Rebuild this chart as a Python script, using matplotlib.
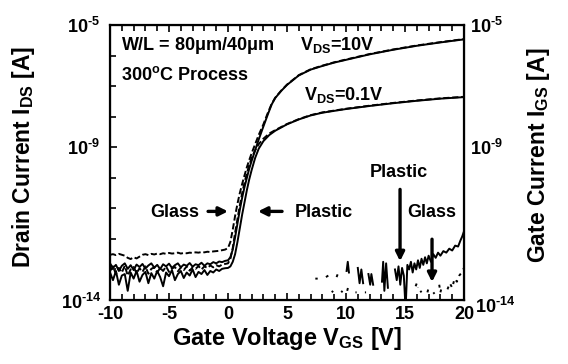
import numpy as np
import matplotlib
matplotlib.use("Agg")
import matplotlib.pyplot as plt
from matplotlib.ticker import FixedLocator, NullFormatter, FuncFormatter

plt.rcParams['font.family'] = 'Liberation Sans'
plt.rcParams['font.weight'] = 'bold'
plt.rcParams['axes.unicode_minus'] = False
plt.rcParams['mathtext.fontset'] = 'custom'
plt.rcParams['mathtext.rm'] = 'Liberation Sans:bold'
plt.rcParams['mathtext.it'] = 'Liberation Sans:bold'
plt.rcParams['mathtext.bf'] = 'Liberation Sans:bold'
plt.rcParams['mathtext.sf'] = 'Liberation Sans:bold'

nan = np.nan

# off-state gate voltages (V)
vg_off = [-10, -9.75, -9.5, -9.25, -9, -8.75, -8.5, -8.25, -8, -7.75,
          -7.5, -7.25, -7, -6.75, -6.5, -6.25, -6, -5.75, -5.5, -5.25,
          -5, -4.75, -4.5, -4.25, -4, -3.75, -3.5, -3.25, -3, -2.75,
          -2.5, -2.25, -2, -1.75, -1.5, -1.25, -1, -0.75, -0.5, -0.25]

# log10(I_DS) in off state
glass10_off = [-12.52, -12.50, -12.53, -12.49, -12.52, -12.55, -12.62, -12.66, -12.60, -12.64,
               -12.58, -12.52, -12.50, -12.53, -12.49, -12.51, -12.48, -12.50, -12.47, -12.49,
               -12.46, -12.48, -12.47, -12.45, -12.48, -12.46, -12.47, -12.45, -12.46, -12.44,
               -12.45, -12.43, -12.44, -12.42, -12.43, -12.41, -12.40, -12.39, -12.37, -12.35]
plastic10_off = [-12.80, -12.95, -12.85, -13.05, -12.88, -12.80, -12.98, -12.86, -13.02, -12.84,
                 -12.92, -12.82, -12.97, -12.87, -12.80, -12.94, -12.85, -12.99, -12.83, -12.90,
                 -12.81, -12.95, -12.86, -12.80, -12.93, -12.84, -12.88, -12.79, -12.91, -12.83,
                 -12.86, -12.78, -12.88, -12.80, -12.83, -12.76, -12.80, -12.74, -12.76, -12.72]
glass01_off = [-13.05, -12.90, -13.15, -12.95, -13.10, -12.88, -13.20, -13.00, -12.92, -13.12,
               -12.96, -13.08, -12.90, -13.14, -12.98, -12.93, -13.10, -12.95, -13.05, -12.90,
               -13.08, -12.97, -12.92, -13.06, -12.94, -13.02, -12.90, -13.04, -12.93, -12.98,
               -12.89, -13.00, -12.90, -12.95, -12.87, -12.93, -12.86, -12.90, -12.84, -12.82]
plastic01_off = [-13.10, -13.35, -13.05, -13.50, -13.20, -13.15, -13.70, -13.10, -13.30, -13.05,
                 -13.40, -13.18, -13.08, -13.45, -13.12, -13.30, -13.05, -13.25, -13.55, -13.10,
                 -13.22, -13.02, -13.35, -13.15, -13.05, -13.28, -13.10, -13.20, -13.00, -13.25,
                 -13.08, -13.15, -13.02, -13.18, -13.05, -13.10, -13.00, -13.05, -12.98, -12.96]

# turn-on region and on state
vg_on10 = [0, 0.2, 0.4, 0.6, 0.8, 1.0, 1.2, 1.4, 1.6, 1.8, 2.0, 2.3, 2.6, 3.0, 3.4, 3.7,
           4.0, 4.5, 5, 6, 7, 8, 9, 10, 12, 14, 16, 18, 20]
glass10_on = [-12.30, -12.10, -11.70, -11.25, -10.85, -10.50, -10.20, -9.92, -9.65, -9.42,
              -9.20, -8.90, -8.60, -8.25, -7.85, -7.58, -7.38, -7.15, -6.95, -6.64,
              -6.45, -6.33, -6.22, -6.13, -5.95, -5.80, -5.67, -5.56, -5.46]
plastic10_on = [-12.70, -12.60, -12.35, -11.95, -11.50, -11.05, -10.65, -10.30, -10.00, -9.70,
                -9.45, -9.10, -8.75, -8.32, -7.90, -7.60, -7.39, -7.16, -6.96, -6.65,
                -6.46, -6.34, -6.23, -6.14, -5.96, -5.81, -5.68, -5.57, -5.47]
vg_on01 = [0, 0.2, 0.4, 0.6, 0.8, 1.0, 1.2, 1.4, 1.6, 1.8, 2.0, 2.3, 2.6, 3.0, 3.5,
           4.0, 5, 6, 7, 8, 10, 12, 14, 16, 18, 20]
glass01_on = [-12.80, -12.65, -12.30, -11.80, -11.35, -10.90, -10.50, -10.15, -9.85, -9.58,
              -9.35, -9.10, -8.90, -8.72, -8.55, -8.44, -8.24, -8.08, -7.95, -7.86,
              -7.74, -7.64, -7.55, -7.47, -7.40, -7.35]
plastic01_on = [-12.95, -12.90, -12.75, -12.50, -12.10, -11.65, -11.20, -10.80, -10.40, -10.05,
                -9.75, -9.35, -9.05, -8.80, -8.60, -8.46, -8.25, -8.09, -7.96, -7.87,
                -7.75, -7.65, -7.56, -7.48, -7.41, -7.36]

# gate current, log10(I_GS); nan where the current is below the floor
ig_plastic_v = [10.0, 10.05, 10.15, 10.25, 10.3, 11.0, 11.15, 11.3, 11.45, 11.5,
                11.9, 12.05, 12.15, 12.3, 12.4, 13.05, 13.15, 13.25, 13.4, 13.55, 13.65,
                14.15, 14.3, 14.45, 14.6, 14.75, 14.9, 15.05, 15.2, 15.35, 15.5, 15.65,
                15.8, 15.95, 16.1, 16.25, 16.4, 16.55, 16.7, 16.85, 17.0, 17.2, 17.4,
                17.6, 17.8, 18.0, 18.25, 18.5, 18.75, 19.0, 19.25, 19.5, 19.7, 19.85, 20.0]
ig_plastic = [nan, -13.05, -12.75, -13.10, nan, -12.95, -13.45, -13.00, -13.45, nan,
              -13.15, -13.50, -13.15, -13.50, nan, -13.40, -12.75, -13.70, -12.80, -13.60, nan,
              -13.00, -13.35, -12.90, -13.50, -12.95, -13.20, -14.30, -12.85, -13.00, -12.75, -13.10,
              -12.80, -13.00, -12.70, -12.95, -12.65, -12.85, -12.60, -12.80, -12.55, -12.75, -12.50,
              -12.62, -12.45, -12.55, -12.40, -12.45, -12.32, -12.38, -12.22, -12.25, -12.05, -11.92, -11.75]
ig_glass_v = [7.4, 7.6, 7.7, 8.3, 8.5, 8.6, 8.8, 8.9, 9.0, 9.2, 9.3, 9.4, 9.6, 9.7, 9.8,
              10.1, 10.2, 10.3, 10.8, 10.9, 11.0, 11.6, 11.7, 11.8,
              15.9, 16.0, 16.1, 16.2, 16.3, 16.4, 16.5, 16.9, 17.0, 17.1, 17.4, 17.5, 17.6,
              17.9, 18.0, 18.1, 18.2, 18.6, 18.8, 19.0, 19.2, 19.4, 19.6, 19.8, 20.0]
ig_glass = [-13.30, -13.30, nan, -13.25, -13.20, nan, -13.75, -13.70, nan, -13.25, -13.15, nan,
            -13.75, -13.70, nan, -13.70, -13.55, nan, -13.75, -13.75, nan, -13.75, -13.75, nan,
            -13.55, -13.45, -13.60, nan, -13.70, -13.75, nan, -13.75, -13.60, nan, -13.75, -13.80, nan,
            -13.50, -13.75, -13.60, nan, -13.65, -13.45, -13.60, -13.30, -13.40, -13.20, -13.10, -12.95]

fig = plt.figure(figsize=(5.68, 3.64), dpi=100)
ax = fig.add_subplot(111)
fig.subplots_adjust(left=0.1937, right=0.8169, bottom=0.1758, top=0.9313)

lw = 1.4
dash = (0, (3.2, 1.4))

def curve(v_off, y_off, v_on, y_on):
    v = list(v_off) + list(v_on)
    y = list(y_off) + list(y_on)
    return np.array(v), 10.0 ** np.array(y)

x, y = curve(vg_off, plastic01_off, vg_on01, plastic01_on)
ax.plot(x, y, color='black', lw=lw)
x, y = curve(vg_off, plastic10_off, vg_on10, plastic10_on)
ax.plot(x, y, color='black', lw=lw)
x, y = curve(vg_off, glass01_off, vg_on01, glass01_on)
ax.plot(x, y, color='black', lw=lw, ls=dash)
x, y = curve(vg_off, glass10_off, vg_on10, glass10_on)
ax.plot(x, y, color='black', lw=lw, ls=dash)

ax.plot(ig_plastic_v, 10.0 ** np.array(ig_plastic), color='black', lw=lw)
ax.plot(ig_glass_v, 10.0 ** np.array(ig_glass), color='black', lw=lw, ls=(0, (1.5, 2.5)))

ax.set_yscale('log')
ax.set_xlim(-10, 20)
ax.set_ylim(1e-14, 1e-5)

def ylab(val, pos):
    e = int(round(np.log10(val)))
    if e == -14:
        return ''
    return r'$10^{\text{-%d}}$' % (-e)

ax.xaxis.set_major_locator(FixedLocator([-10, -5, 0, 5, 10, 15, 20]))
ax.xaxis.set_minor_locator(FixedLocator(range(-10, 21)))
ax.yaxis.set_major_locator(FixedLocator([1e-14, 1e-9, 1e-5]))
ax.yaxis.set_minor_locator(FixedLocator([1e-13, 1e-12, 1e-11, 1e-10, 1e-8, 1e-7, 1e-6]))
ax.yaxis.set_minor_formatter(NullFormatter())
ax.yaxis.set_major_formatter(FuncFormatter(ylab))
ax.tick_params(which='both', direction='in', top=True, right=True, width=1.2)
ax.tick_params(which='major', length=5)
ax.tick_params(which='minor', length=4)
ax.tick_params(axis='y', which='major', labelsize=13, pad=7)
ax.tick_params(axis='x', labelsize=13, pad=4)
for s in ax.spines.values():
    s.set_linewidth(1.6)

# right-hand labels (gate current axis, same scale)
ax2 = ax.twinx()
ax2.set_yscale('log')
ax2.set_ylim(1e-14, 1e-5)
ax2.yaxis.set_major_locator(FixedLocator([1e-14, 1e-9, 1e-5]))
ax2.yaxis.set_minor_locator(FixedLocator([]))
ax2.yaxis.set_major_formatter(FuncFormatter(ylab))
ax2.tick_params(axis='y', length=0, labelsize=13, pad=4)

ax.annotate(r'$10^{\text{-14}}$', xy=(0, 0), xycoords='axes fraction', xytext=(-6, -2),
            textcoords='offset points', ha='right', va='center', fontsize=13)
ax.annotate(r'$10^{\text{-14}}$', xy=(1, 0), xycoords='axes fraction', xytext=(8, -5),
            textcoords='offset points', ha='left', va='center', fontsize=13)

ax.set_xlabel(r'Gate Voltage V$_{GS}$ [V]', fontsize=17, fontweight='bold', labelpad=2)
fig.text(0.042, 0.57, r'Drain Current I$_{DS}$ [A]', rotation=90, fontsize=16.5,
         ha='center', va='center')
fig.text(0.948, 0.572, r'Gate Current I$_{GS}$ [A]', rotation=90, fontsize=16.5,
         ha='center', va='center')

fs = 13
ax.text(-9.07, 10 ** -5.815, r'W/L = 80$\mu$m/40$\mu$m', fontsize=fs, va='baseline')
ax.text(-9.07, 10 ** -6.79, r'300$^\mathrm{o}$C Process', fontsize=fs, va='baseline')
ax.text(6.1, 10 ** -5.815, r'V$_{DS}$=10V', fontsize=fs, va='baseline')
ax.text(6.44, 10 ** -7.45, r'V$_{DS}$=0.1V', fontsize=fs, va='baseline')
ax.text(-6.61, 10 ** -11.29, 'Glass', fontsize=fs, va='baseline')
ax.text(5.68, 10 ** -11.29, 'Plastic', fontsize=fs, va='baseline')
ax.text(12.03, 10 ** -9.99, 'Plastic', fontsize=fs, va='baseline')
ax.text(15.17, 10 ** -11.29, 'Glass', fontsize=fs, va='baseline')

arrow = dict(arrowstyle='-|>', lw=2.4, color='black', mutation_scale=13,
             shrinkA=0, shrinkB=0)
ax.annotate('', xy=(0.0, 10 ** -11.10), xytext=(-1.69, 10 ** -11.10), arrowprops=arrow)
ax.annotate('', xy=(2.54, 10 ** -11.10), xytext=(4.58, 10 ** -11.10), arrowprops=arrow)
ax.annotate('', xy=(14.58, 10 ** -12.73), xytext=(14.58, 10 ** -10.38), arrowprops=arrow)
ax.annotate('', xy=(17.29, 10 ** -13.41), xytext=(17.29, 10 ** -12.01), arrowprops=arrow)

fig.savefig('out.png', dpi=100)
